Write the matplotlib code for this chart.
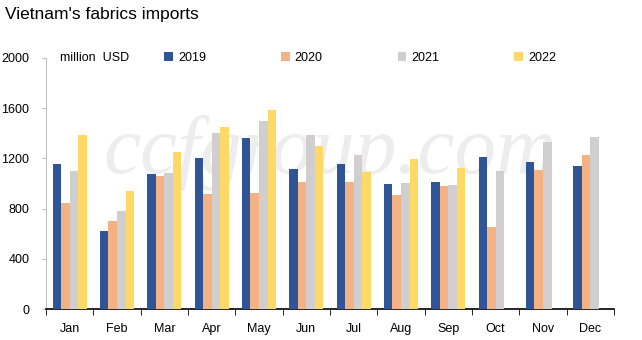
import numpy as np
import matplotlib
matplotlib.use('Agg')
import matplotlib.pyplot as plt

plt.rcParams.update({'font.family': 'Liberation Sans', 'font.size': 9})

months = ['Jan', 'Feb', 'Mar', 'Apr', 'May', 'Jun', 'Jul', 'Aug', 'Sep', 'Oct', 'Nov', 'Dec']
years = ['2019', '2020', '2021', '2022']
v2019 = [1158, 622, 1076, 1203, 1363, 1116, 1156, 996, 1012, 1211, 1172, 1140]
v2020 = [845, 701, 1060, 916, 925, 1012, 1012, 909, 980, 654, 1108, 1227]
v2021 = [1100, 781, 1084, 1403, 1498, 1387, 1227, 1004, 988, 1100, 1331, 1371]
v2022 = [1387, 940, 1251, 1450, 1586, 1299, 1092, 1196, 1124, None, None, None]
colors = ['#2F5597', '#F4B183', '#D0CECE', '#FFD966']

fig = plt.figure(figsize=(6.42, 3.40), dpi=100)
ax = fig.add_axes([46/642, 1 - 309/340, (614 - 46)/642, (309 - 58)/340])

ax.text(0.5, 0.62, 'ccfgroup.com', transform=ax.transAxes, fontsize=60, family='Liberation Serif',
        style='italic', color='#EDEDED', ha='center', va='center', zorder=1)

x = np.arange(len(months))
w = 0.18
for i, (vals, c, lab) in enumerate(zip([v2019, v2020, v2021, v2022], colors, years)):
    xs = [xi for xi, v in zip(x, vals) if v is not None]
    ys = [v for v in vals if v is not None]
    ax.bar(np.array(xs) + (i - 1.5) * w, ys, width=w, color=c, label=lab, zorder=3)

ax.set_xlim(-0.5, 11.5)
ax.set_ylim(0, 2000)
ax.set_yticks([0, 400, 800, 1200, 1600, 2000])
ax.tick_params(axis='y', length=3, color='#BFBFBF', pad=9, labelsize=9)
ax.set_xticks(x)
ax.set_xticklabels(months)
ax.tick_params(axis='x', which='major', length=0, pad=10, labelsize=9)
ax.set_xticks(np.arange(-0.5, 12, 1), minor=True)
ax.tick_params(axis='x', which='minor', length=4, direction='out', color='black')
for s in ['top', 'right']:
    ax.spines[s].set_visible(False)
ax.spines['left'].set_color('#BFBFBF')
ax.spines['bottom'].set_color('black')
ax.spines['bottom'].set_linewidth(1.2)

ax.text(0.025, 1.0, 'million  USD', transform=ax.transAxes, fontsize=9, va='center', ha='left')
ax.legend(ncol=4, loc='center left', bbox_to_anchor=(0.208, 1.0), frameon=False,
          handlelength=0.7, handleheight=0.7, handletextpad=0.4, columnspacing=6.0, fontsize=9,
          borderaxespad=0, borderpad=0)

fig.text(5/642, 1 - 15/340, "Vietnam's fabrics imports", fontsize=12.5, va='center', ha='left')

fig.savefig('out.png', dpi=100)
